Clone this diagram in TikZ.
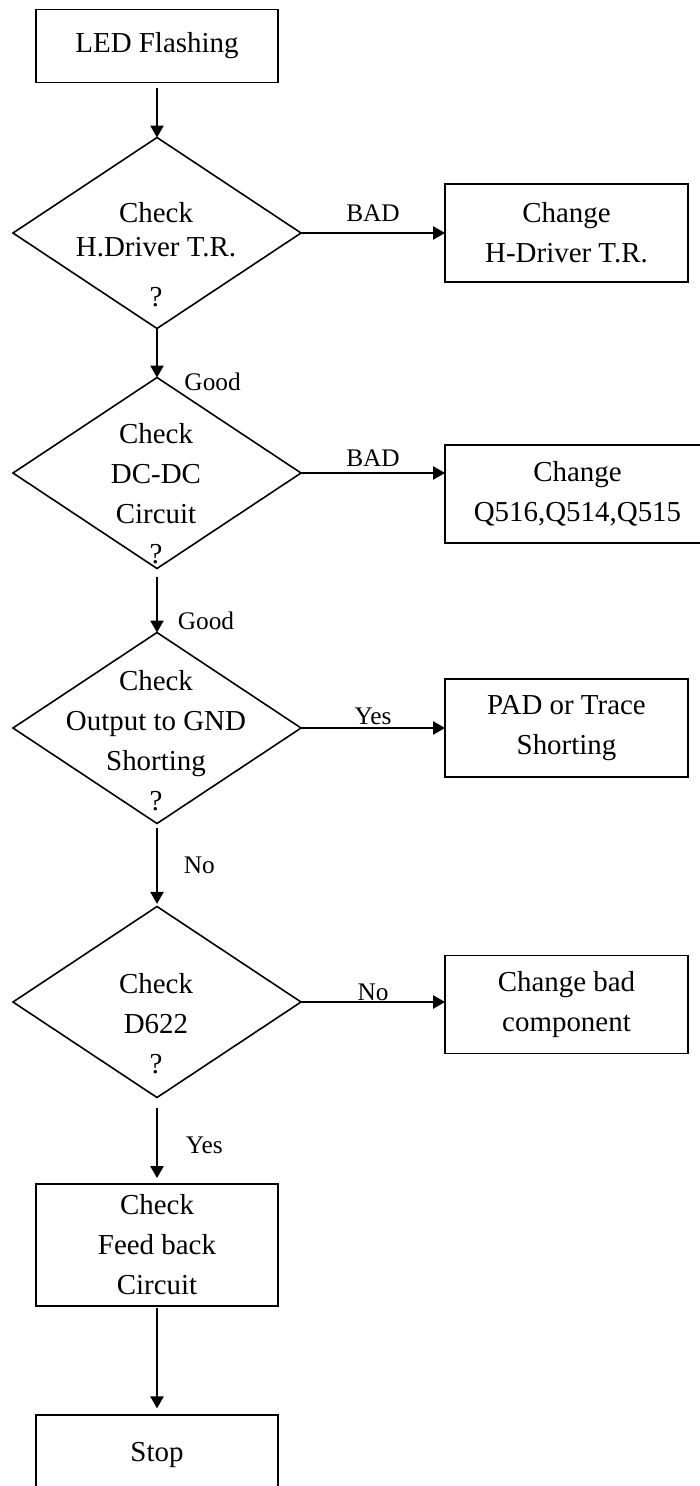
\documentclass[tikz,border=0pt]{standalone}
\usepackage{fontspec}
\setmainfont{Liberation Serif}
\usetikzlibrary{arrows.meta,shapes.geometric}

\tikzset{
  box/.style={draw, line width=1.2pt, rectangle, inner sep=0pt, outer sep=0pt,
    align=center, font=\fontsize{21.7pt}{30pt}\selectfont},
  decision/.style={draw, line width=1.2pt, diamond, inner sep=0pt, outer sep=0pt,
    minimum width=216pt, minimum height=143.25pt},
  dtext/.style={align=center, inner sep=0pt, anchor=north,
    font=\fontsize{21.7pt}{30pt}\selectfont},
  lbl/.style={inner sep=0pt, font=\fontsize{19pt}{22pt}\selectfont},
  flow/.style={line width=1.2pt, -{Triangle[length=9pt,width=10pt]}}
}

\begin{document}
\begin{tikzpicture}[x=0.75pt, y=-0.75pt]
    \clip (0,0) rectangle (700,1486);

    % Main column
    \node[box, minimum width=181.5pt, minimum height=54.75pt] (start) at (157,46) {LED Flashing};
    \node[decision] (d1) at (157,233) {};
    \node[decision] (d2) at (157,473) {};
    \node[decision] (d3) at (157,728) {};
    \node[decision] (d4) at (157,1002) {};
    \node[box, minimum width=181.5pt, minimum height=91.5pt] (feed) at (157,1245) {Check\\Feed back\\Circuit};
    \node[box, minimum width=181.5pt, minimum height=60pt] (stop) at (157,1455) {Stop};

    % Texts inside the decisions
    \node[dtext, font=\fontsize{21.7pt}{25.5pt}\selectfont] (t1) at (156,202) {Check\\H.Driver T.R.\\[12pt]?};
    \node[dtext] (t2) at (156,423) {Check\\DC-DC\\Circuit\\?};
    \node[dtext] (t3) at (156,670) {Check\\Output to GND\\Shorting\\?};
    \node[dtext] (t4) at (156,973) {Check\\D622\\?};

    % Repair actions
    \node[box, minimum width=182.25pt, minimum height=73.5pt] (chg1) at (566.5,233) {Change\\H-Driver T.R.};
    \node[box, minimum width=198.75pt, minimum height=73.5pt] (chg2) at (577.5,494) {Change\\Q516,Q514,Q515};
    \node[box, minimum width=182.25pt, minimum height=73.5pt] (pad) at (566.5,728) {PAD or Trace\\Shorting};
    \node[box, minimum width=182.25pt, minimum height=73.5pt] (chg3) at (566.5,1004.5) {Change bad\\component};

    % Flow down
    \draw[flow, shorten <=4pt] (start.south) -- (d1.north);
    \draw[flow] (d1.south) -- node[lbl, pos=1.09, right=20pt] (good1) {Good} (d2.north);
    \draw[flow, shorten <=6pt] (d2.south) -- node[lbl, pos=0.82, right=15pt] (good2) {Good} (d3.north);
    \draw[flow, shorten <=3pt, shorten >=2pt] (d3.south) -- node[lbl, midway, right=19.5pt] (no1) {No} (d4.north);
    \draw[flow, shorten <=8pt, shorten >=4.5pt] (d4.south) -- node[lbl, pos=0.55, right=21pt] (yes1) {Yes} (feed.north);
    \draw[flow, shorten <=1.5pt, shorten >=5pt] (feed.south) -- (stop.north);

    % Branches to the right
    \draw[flow] (d1.east) -- node[lbl, midway, above=8pt] (bad1) {BAD} (d1.east -| chg1.west);
    \draw[flow] (d2.east) -- node[lbl, midway, above=4.5pt] (bad2) {BAD} (d2.east -| chg2.west);
    \draw[flow] (d3.east) -- node[lbl, midway, above=2pt] (yes2) {Yes} (d3.east -| pad.west);
    \draw[flow] (d4.east) -- node[lbl, midway, above=0.5pt] (no2) {No} (d4.east -| chg3.west);
\end{tikzpicture}
\end{document}
